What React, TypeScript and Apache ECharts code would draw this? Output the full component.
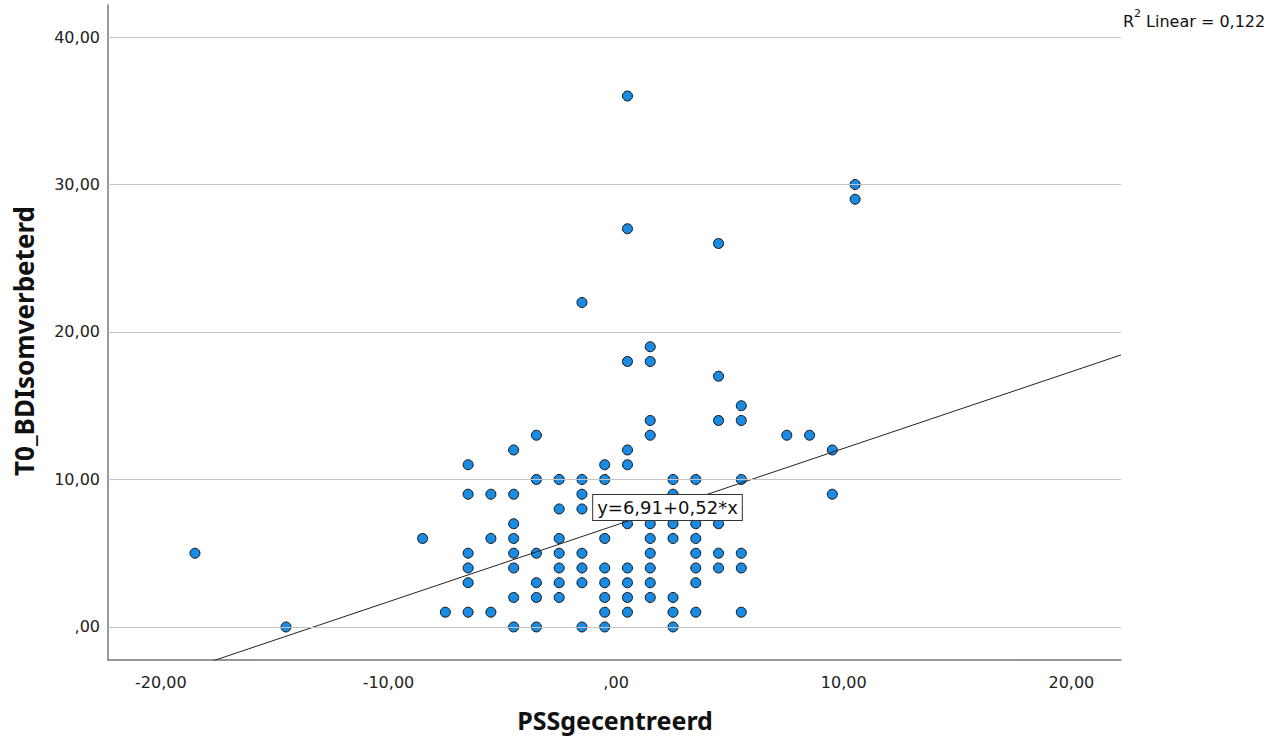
import React, { useEffect, useRef } from "react";
import * as echarts from "echarts";

// PSS (centered) column positions and the T0_BDI values found in each column
const PSS_LEVELS = [-18.5, -14.5, -8.5, -7.5, -6.5, -5.5, -4.5, -3.5, -2.5, -1.5, -0.5, 0.5, 1.5, 2.5, 3.5, 4.5, 5.5, 7.5, 8.5, 9.5, 10.5];
const BDI_BY_LEVEL = [
  [5],
  [0],
  [6],
  [1],
  [11, 9, 5, 4, 3, 1],
  [9, 6, 1],
  [12, 9, 7, 6, 5, 4, 2, 0],
  [13, 10, 5, 3, 2, 0],
  [10, 8, 6, 5, 4, 3, 2],
  [22, 10, 9, 8, 5, 4, 3, 0],
  [11, 10, 6, 4, 3, 2, 1, 0],
  [36, 27, 18, 12, 11, 7, 4, 3, 2, 1],
  [19, 18, 14, 13, 7, 6, 5, 4, 3, 2],
  [10, 9, 7, 6, 2, 1, 0],
  [10, 7, 6, 5, 4, 3, 1],
  [26, 17, 14, 7, 5, 4],
  [15, 14, 10, 5, 4, 1],
  [13],
  [13],
  [12, 9],
  [30, 29],
];

const X_TICKS = [-20, -10, 0, 10, 20];
const Y_TICKS = [0, 10, 20, 30, 40];
const X_RANGE = [-22.32, 22.18];
const Y_RANGE = [-2.24, 42.17];

const FIT_INTERCEPT = 6.91;
const FIT_SLOPE = 0.52;
const R2_TEXT = " Linear = 0,122";
const EQ_TEXT = "y=6,91+0,52*x";

const fmt = (v: number) => (Math.abs(v) < 1e-9 ? ",00" : v.toFixed(2).replace(".", ","));

export default function App() {
  const ref = useRef<HTMLDivElement>(null);
  useEffect(() => {
    if (!ref.current) return;
    const chart = echarts.init(ref.current, null, { renderer: "svg" });
    const points: number[][] = [];
    PSS_LEVELS.forEach((x, i) => BDI_BY_LEVEL[i].forEach((y) => points.push([x, y])));
    const fitLine = X_RANGE.map((x) => [x, FIT_INTERCEPT + FIT_SLOPE * x]);
    const tickFont = { fontFamily: "DejaVu Sans", fontSize: 16, color: "#222" };
    chart.setOption({
      animation: false,
      grid: { left: 108, right: 155, top: 5, bottom: 77, containLabel: false },
      xAxis: {
        type: "value",
        min: X_RANGE[0],
        max: X_RANGE[1],
        axisLine: { show: true, onZero: false, lineStyle: { color: "#777", width: 1.5 } },
        axisTick: { show: false },
        splitLine: { show: false },
        axisLabel: { ...tickFont, margin: 14, customValues: X_TICKS, formatter: (v: number) => fmt(v) },
      },
      yAxis: {
        type: "value",
        min: Y_RANGE[0],
        max: Y_RANGE[1],
        axisLine: { show: true, onZero: false, lineStyle: { color: "#777", width: 1.5 } },
        axisTick: { show: false },
        splitLine: { show: false },
        axisLabel: { ...tickFont, margin: 8, customValues: Y_TICKS, formatter: (v: number) => fmt(v) },
      },
      series: [
        {
          type: "line",
          data: [],
          z: 1,
          silent: true,
          markLine: {
            silent: true,
            symbol: ["none", "none"],
            label: { show: false },
            lineStyle: { color: "#c4c4c4", width: 1.2, type: "solid" },
            data: Y_TICKS.map((v) => ({ yAxis: v })),
          },
        },
        {
          type: "scatter",
          z: 2,
          data: points,
          symbol: "circle",
          symbolSize: 10,
          itemStyle: { color: "#1a8be3", borderColor: "#111", borderWidth: 1, opacity: 1 },
        },
        {
          type: "line",
          z: 3,
          data: fitLine,
          showSymbol: false,
          symbol: "none",
          clip: true,
          lineStyle: { color: "#222", width: 1 },
        },
      ],
      graphic: [
        {
          type: "text",
          x: 24,
          y: 341,
          rotation: Math.PI / 2,
          style: {
            text: "T0_BDIsomverbeterd",
            fontFamily: "Noto Sans",
            fontWeight: "bold",
            fontSize: 26,
            fill: "#111",
            align: "center",
            verticalAlign: "middle",
          },
        },
        {
          type: "text",
          x: 615,
          y: 720,
          style: {
            text: "PSSgecentreerd",
            fontFamily: "Noto Sans",
            fontWeight: "bold",
            fontSize: 25,
            fill: "#111",
            align: "center",
            verticalAlign: "middle",
          },
        },
        {
          type: "text",
          x: 1123,
          y: 21,
          style: { text: "R", fontFamily: "DejaVu Sans", fontSize: 16, fill: "#111", align: "left", verticalAlign: "middle" },
        },
        {
          type: "text",
          x: 1134,
          y: 13,
          style: { text: "2", fontFamily: "DejaVu Sans", fontSize: 11, fill: "#111", align: "left", verticalAlign: "middle" },
        },
        {
          type: "text",
          x: 1141,
          y: 21,
          style: { text: R2_TEXT, fontFamily: "DejaVu Sans", fontSize: 16, fill: "#111", align: "left", verticalAlign: "middle" },
        },
        {
          type: "text",
          x: 667.5,
          y: 507.5,
          z: 100,
          style: {
            text: EQ_TEXT,
            fontFamily: "DejaVu Sans",
            fontSize: 18,
            fill: "#111",
            align: "center",
            verticalAlign: "middle",
            backgroundColor: "#fff",
            borderColor: "#333",
            borderWidth: 1,
            padding: [4, 4, 3, 4],
          },
        },
      ],
    });
    return () => chart.dispose();
  }, []);
  return (
    <div
      ref={ref}
      style={{ position: "fixed", left: 0, top: 0, width: 1276, height: 737, background: "#fff" }}
    />
  );
}
